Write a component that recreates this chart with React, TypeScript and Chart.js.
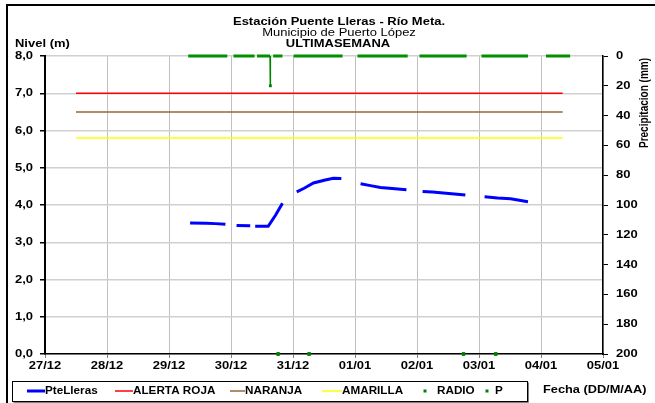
import React, { useEffect, useRef } from "react";
import { Chart, registerables } from "chart.js";

Chart.register(...registerables);

const FONT = "'Liberation Sans', Arial, Helvetica, sans-serif";

const titleLines = ["Estación Puente Lleras - Río Meta.", "Municipio de Puerto López", "ULTIMASEMANA"];
const leftAxisTitle = "Nivel (m)";
const rightAxisTitle = "Precipitacion (mm)";
const xAxisTitle = "Fecha (DD/M/AA)";

const dayLabels = ["27/12", "28/12", "29/12", "30/12", "31/12", "01/01", "02/01", "03/01", "04/01", "05/01"];

// PteLleras level (m); time in days since 27/12, null = gap
const levelTime = [2.34, 2.6, 2.75, 2.91, 3.0, 3.09, 3.31, 3.35, 3.39, 3.6, 3.72, 3.83, 3.95, 4.06, 4.18, 4.33, 4.52, 4.65, 4.78, 4.95, 5.09, 5.25, 5.41, 5.6, 5.83, 5.95, 6.09, 6.25, 6.38, 6.78, 6.95, 7.09, 7.3, 7.51, 7.79];
const levelValue = [3.52, 3.51, 3.5, 3.48, null, 3.45, 3.44, null, 3.43, 3.43, 3.73, 4.05, null, 4.35, 4.45, 4.59, 4.67, 4.72, 4.71, null, 4.57, 4.52, 4.47, 4.44, 4.41, null, 4.36, 4.35, 4.33, 4.27, null, 4.22, 4.19, 4.17, 4.09];

// threshold levels (m)
const thresholdTime = [0.5, 8.35];
const alertaRoja = 7.0;
const naranja = 6.5;
const amarilla = 5.8;

// RADIO points
const radioTime = [3.76, 4.26, 6.75, 7.27];
const radioValue = [0, 0, 0, 0];

// P precipitation (mm), right axis
const precipTime = [2.31, 2.94, 2.97, 3.04, 3.38, 3.4, 3.42, 3.63, 3.635, 3.66, 3.68, 3.83, 3.9, 4.01, 4.8, 4.9, 5.04, 5.85, 5.95, 6.04, 6.8, 6.9, 7.04, 7.79, 7.9, 8.08, 8.47];
const precipValue = [0, 0, null, 0, 0, null, 0, 0, 20, null, 0, 0, null, 0, 0, null, 0, 0, null, 0, 0, null, 0, 0, null, 0, 0];

const pts = (xs: number[], ys: (number | null)[]) => xs.map((x, i) => ({ x, y: ys[i] }));

function drawText(
  ctx: CanvasRenderingContext2D,
  text: string,
  x: number,
  y: number,
  align: "left" | "center" | "right",
  font: string,
  sx: number
) {
  ctx.save();
  ctx.font = font;
  ctx.textBaseline = "middle";
  ctx.textAlign = "left";
  const w = ctx.measureText(text).width * sx;
  const left = align === "center" ? x - w / 2 : align === "right" ? x - w : x;
  ctx.translate(left, y);
  ctx.scale(sx, 1);
  ctx.fillText(text, 0, 0);
  ctx.restore();
}

const SX = 1.18;
const B11 = `bold 11px ${FONT}`;
const R11 = `11px ${FONT}`;
const B10 = `bold 10px ${FONT}`;

const decorPlugin = {
  id: "decor",
  afterDraw(chart: any) {
    const ctx = chart.ctx as CanvasRenderingContext2D;
    ctx.save();
    ctx.fillStyle = "#000";

    drawText(ctx, titleLines[0], 339, 22, "center", B11, SX);
    drawText(ctx, titleLines[1], 339, 33, "center", R11, SX);
    drawText(ctx, titleLines[2], 338, 44, "center", B11, SX);
    drawText(ctx, leftAxisTitle, 15, 44, "left", B11, SX);
    drawText(ctx, xAxisTitle, 543, 390, "left", B11, 1.16);

    // tick labels from scales
    const xs = chart.scales.x;
    const ys = chart.scales.y;
    const y2 = chart.scales.y2;
    xs.ticks.forEach((t: any) => {
      const lbl = dayLabels[Math.round(t.value)];
      if (lbl) drawText(ctx, lbl, xs.getPixelForValue(t.value), 366, "center", B11, SX);
    });
    ys.ticks.forEach((t: any) => {
      drawText(ctx, Number(t.value).toFixed(1).replace(".", ","), 33, ys.getPixelForValue(t.value), "right", B11, SX);
    });
    y2.ticks.forEach((t: any) => {
      drawText(ctx, String(t.value), 616, y2.getPixelForValue(t.value), "left", B11, SX);
    });

    ctx.save();
    ctx.translate(645, 103);
    ctx.rotate(-Math.PI / 2);
    ctx.scale(1, 1.2);
    ctx.font = B10;
    ctx.textAlign = "center";
    ctx.textBaseline = "middle";
    ctx.fillText(rightAxisTitle, 0, 0);
    ctx.restore();

    // outer frame
    ctx.strokeStyle = "#000";
    ctx.lineWidth = 2;
    ctx.beginPath();
    ctx.moveTo(7, 403);
    ctx.lineTo(7, 5);
    ctx.lineTo(655, 5);
    ctx.stroke();

    // legend box
    ctx.strokeStyle = "#808080";
    ctx.lineWidth = 1;
    ctx.beginPath();
    ctx.moveTo(13.5, 402.5);
    ctx.lineTo(528.5, 402.5);
    ctx.lineTo(528.5, 382.5);
    ctx.stroke();
    ctx.strokeStyle = "#000";
    ctx.strokeRect(12.5, 381.5, 515, 20);

    const ds = chart.data.datasets;
    const items = [
      { i: 0, kind: "line", x0: 27, x1: 45, tx: 45 },
      { i: 1, kind: "line", x0: 115, x1: 133, tx: 133 },
      { i: 2, kind: "line", x0: 230, x1: 245, tx: 245 },
      { i: 3, kind: "line", x0: 322, x1: 342, tx: 342 },
      { i: 4, kind: "dot", x0: 425, x1: 425, tx: 437 },
      { i: 5, kind: "dot", x0: 487, x1: 487, tx: 495 },
    ];
    const ly = 391;
    for (const it of items) {
      const d = ds[it.i];
      if (it.kind === "line") {
        ctx.strokeStyle = d.borderColor;
        ctx.lineWidth = it.i === 0 ? 3 : 1.5;
        ctx.beginPath();
        ctx.moveTo(it.x0, ly);
        ctx.lineTo(it.x1, ly);
        ctx.stroke();
      } else {
        ctx.fillStyle = d.backgroundColor;
        ctx.fillRect(it.x0 - 1.5, ly - 1.5, 3, 3);
      }
      ctx.fillStyle = "#000";
      drawText(ctx, d.label, it.tx, ly, "left", B10, 1.17);
    }
    ctx.restore();
  },
};

export default function App() {
  const ref = useRef<HTMLCanvasElement>(null);
  useEffect(() => {
    if (!ref.current) return;
    Chart.defaults.font.family = FONT;
    const chart = new Chart(ref.current, {
      type: "line",
      data: {
        datasets: [
          {
            label: "PteLleras",
            data: pts(levelTime, levelValue),
            borderColor: "#0000ff",
            backgroundColor: "#0000ff",
            borderWidth: 3,
            pointRadius: 0,
            yAxisID: "y",
          },
          {
            label: "ALERTA ROJA",
            data: pts(thresholdTime, [alertaRoja, alertaRoja]),
            borderColor: "#ff0000",
            backgroundColor: "#ff0000",
            borderWidth: 1.5,
            pointRadius: 0,
            yAxisID: "y",
          },
          {
            label: "NARANJA",
            data: pts(thresholdTime, [naranja, naranja]),
            borderColor: "#996633",
            backgroundColor: "#996633",
            borderWidth: 1.5,
            pointRadius: 0,
            yAxisID: "y",
          },
          {
            label: "AMARILLA",
            data: pts(thresholdTime, [amarilla, amarilla]),
            borderColor: "#ffff00",
            backgroundColor: "#ffff00",
            borderWidth: 1.5,
            pointRadius: 0,
            yAxisID: "y",
          },
          {
            label: "RADIO",
            data: pts(radioTime, radioValue),
            borderColor: "#008000",
            backgroundColor: "#008000",
            showLine: false,
            pointStyle: "rect",
            pointRadius: 2,
            pointBorderWidth: 1,
            clip: false as any,
            yAxisID: "y",
          },
          {
            label: "P",
            data: pts(precipTime, precipValue),
            borderColor: "#009000",
            backgroundColor: "#008000",
            borderWidth: 3,
            pointStyle: "rect",
            pointRadius: (c: any) => (c.raw && c.raw.y > 0 ? 2 : 0),
            pointBorderWidth: 0,
            clip: false as any,
            segment: {
              borderWidth: (c: any) => (c.p0.parsed.y > 0 || c.p1.parsed.y > 0 ? 1.5 : 3),
              borderColor: (c: any) => (c.p0.parsed.y > 0 || c.p1.parsed.y > 0 ? "#008000" : "#009000"),
            },
            yAxisID: "y2",
          },
        ],
      },
      options: {
        animation: false,
        responsive: false,
        maintainAspectRatio: false,
        layout: { padding: { top: 56, left: 0, right: 0, bottom: 0 } },
        plugins: { legend: { display: false }, tooltip: { enabled: false }, title: { display: false } },
        scales: {
          x: {
            type: "linear",
            min: 0,
            max: 9,
            afterFit: (s: any) => { s.height = 49; },
            afterBuildTicks: (s: any) => { s.ticks = dayLabels.map((_, i) => ({ value: i })); },
            ticks: { display: false, stepSize: 1, autoSkip: false, maxRotation: 0 },
            grid: { color: "#c0c0c0", lineWidth: 1, tickLength: 4, tickColor: "#808080" },
            border: { color: "#000", width: 1.5 },
          },
          y: {
            position: "left",
            min: 0,
            max: 8,
            afterFit: (s: any) => { s.width = 45; },
            ticks: { display: false, stepSize: 1 },
            grid: { color: "#d0d0d0", lineWidth: 1.5, tickLength: 5, tickColor: "#000" },
            border: { color: "#000", width: 2 },
          },
          y2: {
            position: "right",
            min: 0,
            max: 200,
            reverse: true,
            afterFit: (s: any) => { s.width = 52; },
            ticks: { display: false, stepSize: 20 },
            grid: { drawOnChartArea: false, tickLength: 5, tickColor: "#000" },
            border: { color: "#000", width: 1.5 },
          },
        },
      },
      plugins: [decorPlugin],
    });
    return () => chart.destroy();
  }, []);
  return (
    <div style={{ position: "fixed", left: 0, top: 0, width: 655, height: 403, background: "#fff" }}>
      <canvas ref={ref} width={655} height={403} style={{ display: "block", width: 655, height: 403 }} />
    </div>
  );
}
